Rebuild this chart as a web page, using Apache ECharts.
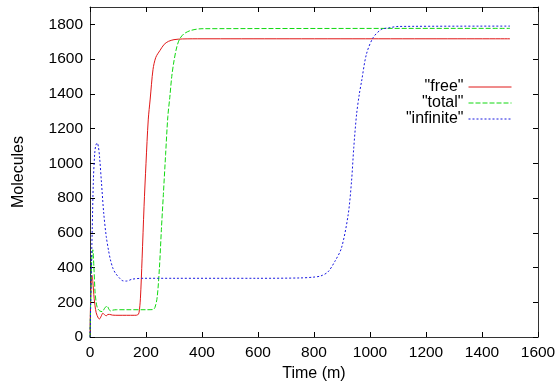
<!DOCTYPE html>
<html>
<head>
<meta charset="utf-8">
<script src="https://cdn.jsdelivr.net/npm/echarts@6/dist/echarts.min.js"></script>
<style>
  html, body { margin: 0; padding: 0; background: #fff; }
  #chart { width: 560px; height: 383px; }
</style>
</head>
<body>
<div id="chart"></div>
<script>
// values (time in minutes, molecules)
const freeTime = [0, 2, 5, 7, 10, 15, 22, 30, 34, 40, 46, 52, 58, 64, 70, 80, 100, 130, 160, 170, 175, 180, 186, 193, 200, 208, 215, 225, 235, 250, 265, 280, 300, 330, 400, 1500]
const freeValues = [0, 200, 340, 355, 320, 220, 140, 108, 104, 120, 137, 128, 122, 130, 130, 126, 125, 125, 125, 127, 140, 220, 450, 750, 1000, 1250, 1370, 1540, 1610, 1650, 1685, 1702, 1712, 1716, 1717, 1717]

const totalTime = [0, 3, 6, 10, 14, 18, 22, 27, 35, 44, 52, 61, 67, 73, 82, 95, 130, 200, 225, 232, 240, 248, 255, 262, 270, 278, 285, 292, 300, 310, 320, 335, 360, 400, 1500]
const totalValues = [0, 250, 440, 502, 400, 260, 200, 165, 150, 146, 165, 179, 162, 150, 155, 157, 157, 157, 158, 170, 230, 400, 620, 820, 1050, 1270, 1380, 1500, 1590, 1670, 1715, 1745, 1765, 1775, 1777]

const infiniteTime = [0, 2, 4, 8, 12, 17, 21, 26, 30, 34, 41, 49, 58, 66, 73, 82, 91, 105, 115, 130, 151, 190, 300, 600, 750, 800, 825, 850, 874, 898, 922, 934, 942, 952, 962, 970, 987, 1011, 1040, 1071, 1100, 1500]
const infiniteValues = [0, 150, 330, 620, 900, 1060, 1105, 1117, 1095, 1040, 888, 713, 579, 500, 444, 395, 367, 340, 325, 322, 333, 338, 338, 338, 340, 345, 352, 375, 434, 512, 704, 896, 1089, 1281, 1400, 1473, 1627, 1723, 1770, 1781, 1788, 1790]

const seriesNames = ['"free"', '"total"', '"infinite"']
const xTicks = [0, 1600, 200]   // min, max, step
const yTicks = [0, 1900, 200]

const font = 'Liberation Sans, Arial, Helvetica, sans-serif'

const pairs = (ts, vs) => ts.map((t, i) => [t, vs[i]])

const chart = echarts.init(document.getElementById('chart'))

const frameLine = { show: true, onZero: false, lineStyle: { color: '#333', width: 1 } }
const innerTick = { show: true, inside: true, length: 5, lineStyle: { color: '#000', width: 1 } }
const plain = (v) => String(v)

const option = {
  backgroundColor: '#fff',
  animation: false,
  grid: { left: 90, right: 22, top: 7, bottom: 46, outerBoundsMode: 'none' },
  legend: {
    orient: 'vertical',
    align: 'right',
    right: 43,
    top: 74,
    itemWidth: 43,
    itemHeight: 14,
    itemGap: 0,
    itemStyle: { opacity: 0 },
    lineStyle: { width: 1 },
    textStyle: { fontFamily: font, fontSize: 16, lineHeight: 16, color: '#000' },
    data: seriesNames
  },
  xAxis: [
    {
      type: 'value',
      min: xTicks[0], max: xTicks[1], interval: xTicks[2],
      name: 'Time (m)',
      nameLocation: 'middle',
      nameGap: 28,
      nameTextStyle: { fontFamily: font, fontSize: 16, color: '#000' },
      axisLine: frameLine,
      axisTick: innerTick,
      axisLabel: { fontFamily: font, fontSize: 15.5, color: '#000', margin: 8, formatter: plain },
      splitLine: { show: false }
    },
    {
      type: 'value', position: 'top',
      min: xTicks[0], max: xTicks[1], interval: xTicks[2],
      axisLine: frameLine, axisTick: innerTick,
      axisLabel: { show: false }, splitLine: { show: false }
    }
  ],
  yAxis: [
    {
      type: 'value',
      min: yTicks[0], max: yTicks[1], interval: yTicks[2],
      name: 'Molecules',
      nameLocation: 'middle',
      nameGap: 63,
      nameRotate: 90,
      nameTextStyle: { fontFamily: font, fontSize: 16, color: '#000' },
      axisLine: frameLine,
      axisTick: innerTick,
      axisLabel: { fontFamily: font, fontSize: 15.5, color: '#000', margin: 7, showMaxLabel: false, formatter: plain },
      splitLine: { show: false }
    },
    {
      type: 'value', position: 'right',
      min: yTicks[0], max: yTicks[1], interval: yTicks[2],
      axisLine: frameLine, axisTick: innerTick,
      axisLabel: { show: false }, splitLine: { show: false }
    }
  ],
  series: [
    {
      name: seriesNames[0],
      type: 'line',
      showSymbol: false, symbol: 'none',
      smooth: 0.3,
      data: pairs(freeTime, freeValues),
      lineStyle: { color: '#e01818', width: 1 },
      itemStyle: { color: '#e01818' }
    },
    {
      name: seriesNames[1],
      type: 'line',
      showSymbol: false, symbol: 'none',
      smooth: 0.3,
      data: pairs(totalTime, totalValues),
      lineStyle: { color: '#10d810', width: 1, type: [5, 2] },
      itemStyle: { color: '#10d810' }
    },
    {
      name: seriesNames[2],
      type: 'line',
      showSymbol: false, symbol: 'none',
      smooth: 0.3,
      data: pairs(infiniteTime, infiniteValues),
      lineStyle: { color: '#1818e0', width: 1, type: [2, 2] },
      itemStyle: { color: '#1818e0' }
    }
  ]
}

chart.setOption(option)
</script>
</body>
</html>
